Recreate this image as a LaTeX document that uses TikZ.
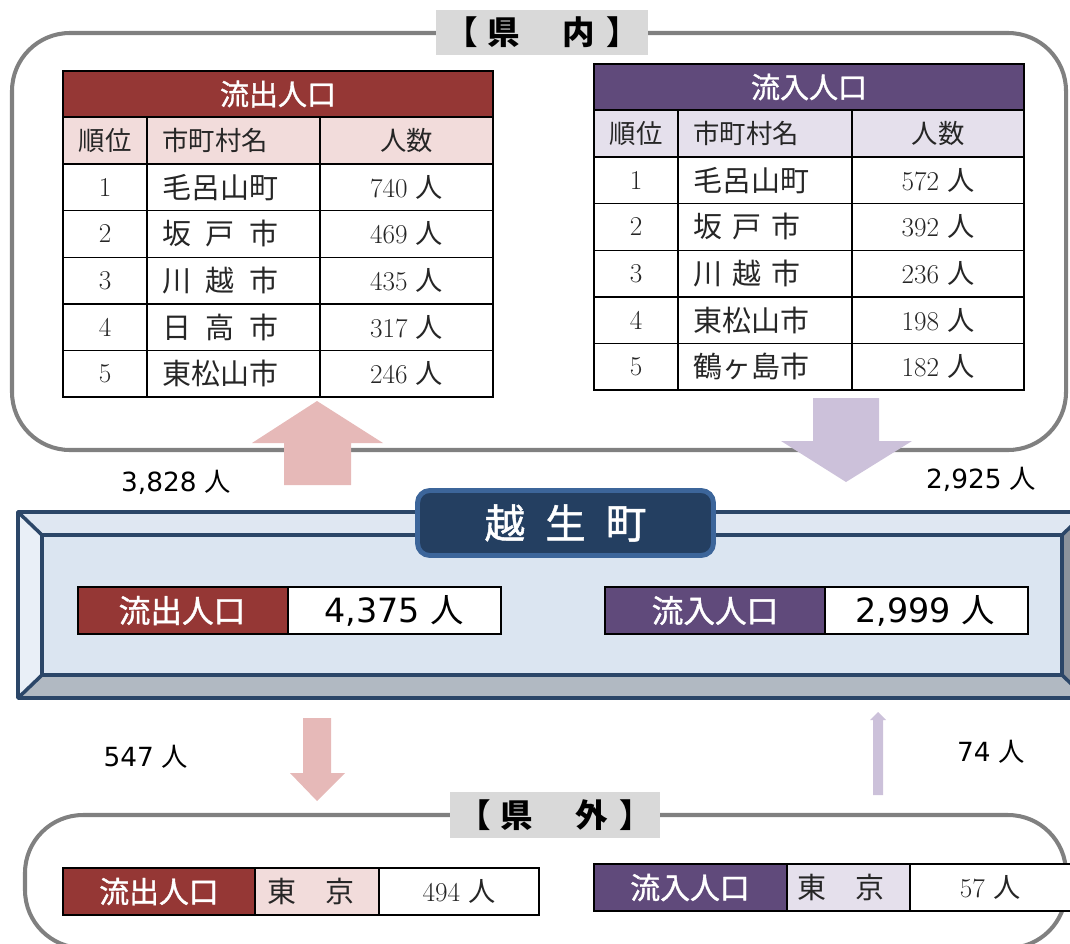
\documentclass[tikz,border=0pt]{standalone}
\usepackage{fontspec}
\newfontfamily\jp{Noto Sans CJK JP}
\newfontfamily\jpb{Noto Sans CJK JP}[FakeBold=1.2]
\newfontfamily\dvs{DejaVu Sans}
\definecolor{outred}{HTML}{953735}
\definecolor{outpink}{HTML}{F2DCDB}
\definecolor{inpurple}{HTML}{604A7B}
\definecolor{inlav}{HTML}{E5E0EC}
\definecolor{arrpink}{HTML}{E6B9B8}
\definecolor{arrlav}{HTML}{CCC1DA}
\definecolor{titlegray}{HTML}{D9D9D9}
\definecolor{framegray}{HTML}{808080}
\definecolor{navy}{HTML}{2B4668}
\definecolor{townfill}{HTML}{243F61}
\definecolor{townline}{HTML}{3C659A}
\definecolor{bevtop}{HTML}{DFE7F2}
\definecolor{bevleft}{HTML}{E9EFF7}
\definecolor{bevin}{HTML}{DBE5F1}
\definecolor{bevbot}{HTML}{B1B9C2}
\definecolor{bevright}{HTML}{8C939C}
\newcommand\popn[1]{{\rmfamily #1}\ {\jp 人}}
\newcommand\bigpop[1]{{\dvs #1}\ {\jp 人}}
\newcommand\sprd[4]{\makebox[#1][l]{#2\hfill #3\hfill #4}}
\begin{document}
\begin{tikzpicture}[x=0.02cm,y=-0.02cm,
  frame/.style={draw=framegray,line width=2.3pt,rounded corners=33pt},
  titlebox/.style={fill=titlegray,inner sep=0pt,minimum height=0.9cm,font=\jp\bfseries\fontsize{18.5}{21}\selectfont},
  tline/.style={draw=black,line width=0.8pt},
  hdr/.style={text=white,inner sep=0pt,font=\jpb\fontsize{16.5}{19}\selectfont},
  colh/.style={inner sep=0pt,text=black!85,font=\jp\fontsize{15}{18}\selectfont},
  cname/.style={inner sep=0pt,anchor=west,text=black!85,font=\jp\fontsize{16.5}{19}\selectfont},
  cnum/.style={inner sep=0pt,text=black!85,font=\fontsize{15.5}{18}\selectfont},
  lbl/.style={inner sep=0pt,font=\fontsize{15}{18}\selectfont},
  bigtxt/.style={inner sep=0pt,font=\fontsize{19}{22}\selectfont},
  boxtxt/.style={inner sep=0pt,text=white,font=\jpb\fontsize{18}{20}\selectfont},
  smalltxt/.style={inner sep=0pt,text=white,font=\jpb\fontsize{17}{20}\selectfont},
  boxline/.style={draw=black,line width=0.7pt},
  bevel/.style={draw=navy,line width=2pt,line join=round},
]
\useasboundingbox (0,0) rectangle (1070,943);
\clip (0,0) rectangle (1070,943);

% ---------- frames ----------
\draw[frame] (12,33) rectangle (1066,450);
\draw[frame] (25,815) rectangle (1066,948);
\node[titlebox,minimum width=4.24cm] (kennai) at (542,32.5) {【\hspace{0.3em}県\hspace{1.3em}内\hspace{0.35em}】};
\node[titlebox,minimum width=4.2cm,minimum height=0.92cm] (kengai) at (555,815) {【\hspace{0.3em}県\hspace{1.3em}外\hspace{0.35em}】};

% ---------- left table (outflow) ----------
\fill[outred] (63,71) rectangle (493,117);
\fill[outpink] (63,117) rectangle (493,164);
\fill[white] (63,164) rectangle (493,397);
\draw[tline] (63,71) rectangle (493,397);
\foreach \yy in {117,164,210.6,257.2,303.8,350.4} \draw[tline] (63,\yy) -- (493,\yy);
\draw[tline] (147,117) -- (147,397);
\draw[tline] (320,117) -- (320,397);
\node[hdr] (lt-head) at (278,94) {流出人口};
\node[colh] (lt-c1) at (105,140.5) {順位};
\node[colh,anchor=west] (lt-c2) at (162,140.5) {市町村名};
\node[colh] (lt-c3) at (406.5,140.5) {人数};
\foreach \r/\nm/\v [count=\i] in {1/毛呂山町/740,2/{\sprd{4em}{坂}{戸}{市}}/469,3/{\sprd{4em}{川}{越}{市}}/435,4/{\sprd{4em}{日}{高}{市}}/317,5/東松山市/246}{
  \pgfmathsetmacro\yc{164+46.6*(\i-0.5)}
  \node[cnum] (lt-r\i-rank) at (105,\yc) {\r};
  \node[cname] (lt-r\i-name) at (162,\yc) {\nm};
  \node[cnum] (lt-r\i-val) at (406.5,\yc) {\popn{\v}};
}

% ---------- right table (inflow) ----------
\fill[inpurple] (594,64) rectangle (1024,110);
\fill[inlav] (594,110) rectangle (1024,157);
\fill[white] (594,157) rectangle (1024,390);
\draw[tline] (594,64) rectangle (1024,390);
\foreach \yy in {110,157,203.6,250.2,296.8,343.4} \draw[tline] (594,\yy) -- (1024,\yy);
\draw[tline] (678,110) -- (678,390);
\draw[tline] (852,110) -- (852,390);
\node[hdr] (rt-head) at (809,87) {流入人口};
\node[colh] (rt-c1) at (636,133.5) {順位};
\node[colh,anchor=west] (rt-c2) at (693,133.5) {市町村名};
\node[colh] (rt-c3) at (938,133.5) {人数};
\foreach \r/\nm/\v [count=\i] in {1/毛呂山町/572,2/{\sprd{3.7em}{坂}{戸}{市}}/392,3/{\sprd{3.7em}{川}{越}{市}}/236,4/東松山市/198,5/鶴ヶ島市/182}{
  \pgfmathsetmacro\yc{157+46.6*(\i-0.5)}
  \node[cnum] (rt-r\i-rank) at (636,\yc) {\r};
  \node[cname] (rt-r\i-name) at (693,\yc) {\nm};
  \node[cnum] (rt-r\i-val) at (938,\yc) {\popn{\v}};
}

% ---------- arrows between prefecture and town ----------
\fill[arrpink] (284,485) -- (284,443) -- (252,443) -- (317,401) -- (383,443) -- (351,443) -- (351,485) -- cycle;
\fill[arrlav] (813,398) -- (879,398) -- (879,441) -- (912,441) -- (846,482) -- (781,441) -- (813,441) -- cycle;
\node[lbl] (lab-out-in) at (176,482) {\bigpop{3,828}};
\node[lbl] (lab-in-in) at (981,479) {\bigpop{2,925}};

% ---------- bevel panel ----------
\fill[bevtop] (18,512) -- (1086,512) -- (1062,535) -- (42,535) -- cycle;
\fill[bevleft] (18,512) -- (42,535) -- (42,675) -- (18,698) -- cycle;
\fill[bevbot] (18,698) -- (42,675) -- (1062,675) -- (1086,698) -- cycle;
\fill[bevright] (1086,512) -- (1062,535) -- (1062,675) -- (1086,698) -- cycle;
\fill[bevin] (42,535) rectangle (1062,675);
\draw[bevel] (18,512) rectangle (1086,698);
\draw[bevel] (42,535) rectangle (1062,675);
\draw[bevel] (18,512) -- (42,535);
\draw[bevel] (18,698) -- (42,675);
\draw[bevel] (1086,512) -- (1062,535);
\draw[bevel] (1086,698) -- (1062,675);

\node[draw=townline,fill=townfill,line width=2.8pt,rounded corners=7pt,minimum width=5.92cm,minimum height=1.3cm,text=white,font=\jpb\fontsize{23}{26}\selectfont] (town) at (565.5,523) {越\hspace{0.5em}生\hspace{0.5em}町};

\filldraw[fill=outred,boxline] (78,587) rectangle (288,634);
\filldraw[fill=white,boxline] (288,587) rectangle (501,634);
\node[boxtxt] (mid-out) at (182,610.5) {流出人口};
\node[bigtxt] (mid-outv) at (394,610.5) {\bigpop{4,375}};
\filldraw[fill=inpurple,boxline] (605,587) rectangle (825,634);
\filldraw[fill=white,boxline] (825,587) rectangle (1028,634);
\node[boxtxt] (mid-in) at (715,610.5) {流入人口};
\node[bigtxt] (mid-inv) at (925,610.5) {\bigpop{2,999}};

% ---------- arrows between town and outside ----------
\fill[arrpink] (303,718) -- (331,718) -- (331,773) -- (345,773) -- (317,801) -- (290,773) -- (303,773) -- cycle;
\fill[arrlav] (873,795) -- (873,720) -- (870,720) -- (878,712) -- (886,720) -- (883,720) -- (883,795) -- cycle;
\node[lbl] (lab-out-ext) at (146,757) {\bigpop{547}};
\node[lbl] (lab-in-ext) at (991,752) {\bigpop{74}};

% ---------- outside rows ----------
\filldraw[fill=outred,boxline] (63,868) rectangle (255,915);
\filldraw[fill=outpink,boxline] (255,868) rectangle (379,915);
\filldraw[fill=white,boxline] (379,868) rectangle (539,915);
\node[smalltxt] (ext-out) at (159,891.5) {流出人口};
\node[cname,anchor=center] (ext-out-city) at (311,891.5) {東　京};
\node[cnum] (ext-out-val) at (459,891.5) {\popn{494}};

\filldraw[fill=inpurple,boxline] (594,864) rectangle (787,911);
\filldraw[fill=inlav,boxline] (787,864) rectangle (910,911);
\filldraw[fill=white,boxline] (910,864) rectangle (1090,911);
\node[smalltxt] (ext-in) at (690,887.5) {流入人口};
\node[cname,anchor=center] (ext-in-city) at (841,887.5) {東　京};
\node[cnum] (ext-in-val) at (990,887.5) {\popn{57}};
\end{tikzpicture}
\end{document}
